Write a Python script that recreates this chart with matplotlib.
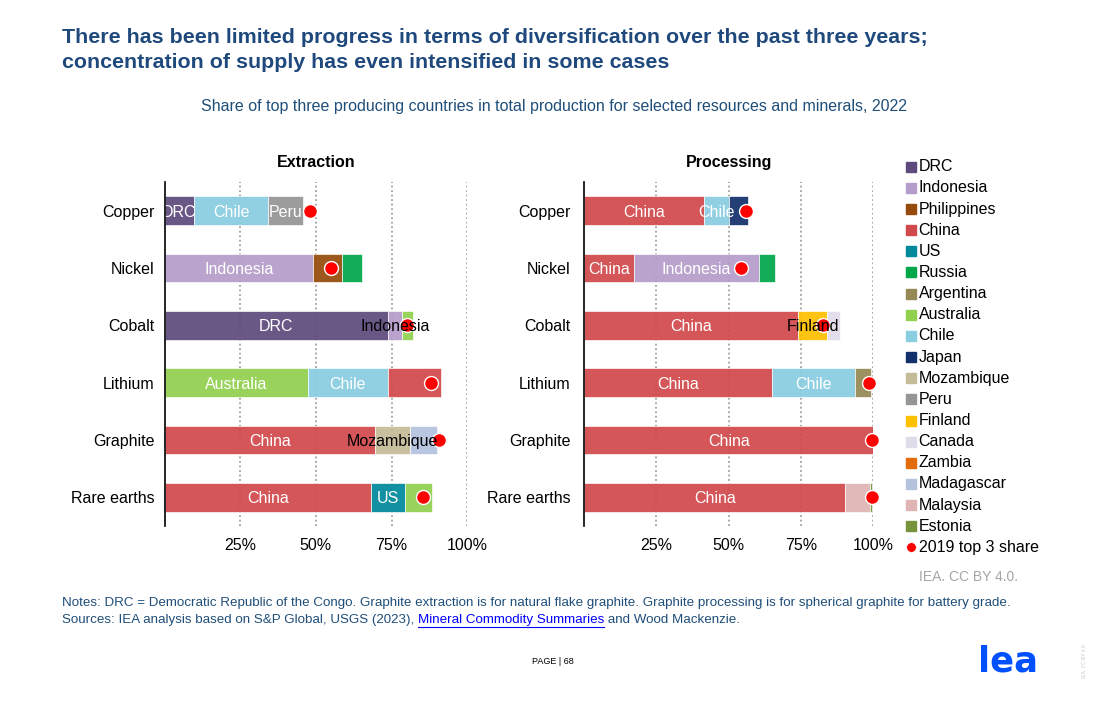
import matplotlib
matplotlib.use("Agg")
import matplotlib.pyplot as plt
from matplotlib.lines import Line2D

plt.rcParams['font.family'] = ['Liberation Sans', 'DejaVu Sans']

# ---------------- data ----------------
minerals = ["Copper", "Nickel", "Cobalt", "Lithium", "Graphite", "Rare earths"]

ext_countries = [["DRC", "Chile", "Peru"],
                 ["Indonesia", "Philippines", "Russia"],
                 ["DRC", "Indonesia", "Australia"],
                 ["Australia", "Chile", "China"],
                 ["China", "Mozambique", "Madagascar"],
                 ["China", "US", "Australia"]]
ext_shares = [[9.9, 24.3, 11.6],
              [49.1, 9.5, 6.6],
              [73.8, 4.6, 3.6],
              [47.4, 26.4, 17.5],
              [69.5, 11.6, 8.9],
              [68.2, 11.1, 8.9]]
ext_2019 = [48.0, 55.0, 80.0, 87.9, 90.8, 85.3]

proc_countries = [["China", "Chile", "Japan"],
                  ["China", "Indonesia", "Russia"],
                  ["China", "Finland", "Canada"],
                  ["China", "Chile", "Argentina"],
                  ["China"],
                  ["China", "Malaysia", "Estonia"]]
proc_shares = [[41.5, 8.5, 6.6],
               [17.2, 43.3, 5.6],
               [74.0, 10.1, 4.5],
               [65.0, 28.8, 5.5],
               [100.0],
               [90.3, 8.7, 0.7]]
proc_2019 = [55.9, 54.4, 82.8, 98.7, 99.8, 99.5]

legend_names = ["DRC", "Indonesia", "Philippines", "China", "US", "Russia",
                "Argentina", "Australia", "Chile", "Japan", "Mozambique", "Peru",
                "Finland", "Canada", "Zambia", "Madagascar", "Malaysia", "Estonia"]

country_colors = {
    "DRC": "#5E4A7C", "Indonesia": "#B59DCB", "Philippines": "#964B0C",
    "China": "#D1494B", "US": "#00899B", "Russia": "#00A84A",
    "Argentina": "#958A55", "Australia": "#92D050", "Chile": "#88CDE0",
    "Japan": "#12306A", "Mozambique": "#C4BC98", "Peru": "#959595",
    "Finland": "#FFC000", "Canada": "#E0DCEA", "Zambia": "#E36C0A",
    "Madagascar": "#B4C2DD", "Malaysia": "#E0B4B4", "Estonia": "#77933C",
}

# segments that carry a data label in the reference
ext_labelled = [["DRC", "Chile", "Peru"], ["Indonesia"], ["DRC", "Indonesia"],
                ["Australia", "Chile"], ["China", "Mozambique"], ["China", "US"]]
proc_labelled = [["China", "Chile"], ["China", "Indonesia"], ["China", "Finland"],
                 ["China", "Chile"], ["China"], ["China"]]
dark_labels = {("Extraction", "Cobalt", "Indonesia"),
               ("Extraction", "Graphite", "Mozambique"),
               ("Processing", "Cobalt", "Finland")}

# ---------------- figure ----------------
W, H = 1106, 703
fig = plt.figure(figsize=(W / 100, H / 100), dpi=100)
fig.patch.set_facecolor("white")


def fx(px):
    return px / W


def fy(py):
    return 1 - py / H


TITLE_C = "#1F497D"
TEXT_C = "#1F4E79"
FS = 11.5


def panel(name, left_px, right_px, countries, shares, marks, labelled, ypad):
    ax = fig.add_axes([fx(left_px), fy(526), (right_px - left_px) / W, (526 - 182) / H])
    for i, (cs, vs) in enumerate(zip(countries, shares)):
        left = 0.0
        for c, v in zip(cs, vs):
            ax.barh(i, v, left=left, height=0.5, color=country_colors[c],
                    edgecolor="white", linewidth=0.5, alpha=0.93, zorder=2)
            if c in labelled[i]:
                col = "black" if (name, minerals[i], c) in dark_labels else "white"
                ax.text(left + v / 2, i, c, ha="center", va="center_baseline",
                        color=col, fontsize=FS, zorder=6)
            left += v
    ax.plot(marks, range(len(minerals)), "o", color="#FF0000", mec="white",
            mew=1.0, ms=10, clip_on=False, zorder=5)
    ax.set_xlim(0, 100)
    ax.set_ylim(len(minerals) - 0.5, -0.5)
    ax.set_yticks(range(len(minerals)))
    ax.set_yticklabels(minerals, fontsize=FS)
    ax.set_xticks([25, 50, 75, 100])
    ax.set_xticklabels(["25%", "50%", "75%", "100%"], fontsize=FS)
    ax.tick_params(axis="both", length=0)
    ax.tick_params(axis="y", pad=ypad)
    ax.tick_params(axis="x", pad=9)
    ax.grid(axis="x", linestyle=(0, (1, 1.5)), color="#A0A0A0", linewidth=1.3, zorder=1)
    ax.set_axisbelow(True)
    for s in ["top", "right", "bottom"]:
        ax.spines[s].set_visible(False)
    ax.spines["left"].set_color("black")
    ax.spines["left"].set_linewidth(1.2)
    ax.spines["left"].set_zorder(7)
    ax.set_title(name, fontsize=FS, fontweight="bold", pad=10.5)
    return ax


panel("Extraction", 164.5, 467.3, ext_countries, ext_shares, ext_2019, ext_labelled, 7)
panel("Processing", 584.3, 873.0, proc_countries, proc_shares, proc_2019, proc_labelled, 10)

# ---------------- titles ----------------
fig.text(fx(62), fy(43.3), "There has been limited progress in terms of diversification over the past three years;",
         fontsize=15.4, fontweight="bold", color=TITLE_C, va="baseline", ha="left")
fig.text(fx(62), fy(68.3), "concentration of supply has even intensified in some cases",
         fontsize=15.4, fontweight="bold", color=TITLE_C, va="baseline", ha="left")
fig.text(fx(554), fy(107), "Share of top three producing countries in total production for selected resources and minerals, 2022",
         fontsize=11.55, color=TEXT_C, va="center", ha="center")

# ---------------- legend ----------------
y0, dy = 166.7, 21.15
for k, nm in enumerate(legend_names):
    y = y0 + k * dy
    fig.add_artist(Line2D([fx(910.5)], [fy(y)], marker="s", ms=6.5, linestyle="none",
                          color=country_colors[nm], transform=fig.transFigure))
    fig.text(fx(918.7), fy(y), nm, fontsize=FS, va="center", ha="left", color="black")
y = y0 + len(legend_names) * dy
fig.add_artist(Line2D([fx(910.5)], [fy(y)], marker="o", ms=7, linestyle="none",
                      color="#FF0000", mec="white", mew=0.5, transform=fig.transFigure))
fig.text(fx(918.7), fy(y), "2019 top 3 share", fontsize=FS, va="center", ha="left", color="black")

fig.text(fx(918.7), fy(577), "IEA. CC BY 4.0.", fontsize=10, color="#A6A6A6", va="center", ha="left")

# ---------------- notes ----------------
fig.text(fx(62), fy(603), "Notes: DRC = Democratic Republic of the Congo. Graphite extraction is for natural flake graphite. "
         "Graphite processing is for spherical graphite for battery grade.",
         fontsize=9.6, color=TEXT_C, va="center", ha="left")
t1 = fig.text(fx(62), fy(620), "Sources: IEA analysis based on S&P Global, USGS (2023), ",
              fontsize=9.6, color=TEXT_C, va="center", ha="left")
fig.canvas.draw()
r = fig.canvas.get_renderer()
bb = t1.get_window_extent(renderer=r)
t2 = fig.text(bb.x1 / W, fy(620), "Mineral Commodity Summaries", fontsize=9.6, color="#0000FF",
              va="center", ha="left")
bb2 = t2.get_window_extent(renderer=r)
fig.add_artist(Line2D([bb2.x0 / W, bb2.x1 / W], [fy(626.5), fy(626.5)], color="#0000FF",
                      lw=0.8, transform=fig.transFigure))
fig.text(bb2.x1 / W, fy(620), " and Wood Mackenzie.", fontsize=9.6, color=TEXT_C,
         va="center", ha="left")

fig.text(fx(553), fy(661), "PAGE | 68", fontsize=6.5, color="black", va="center", ha="center")
fig.text(fx(1008), fy(661), "lea", fontsize=25.5, fontweight="bold", color="#0050FF",
         family="DejaVu Sans", va="center", ha="center")
fig.text(fx(1084), fy(660), "IEA. CC BY 4.0.", fontsize=3.5, color="#C8C8C8", rotation=90,
         va="center", ha="center")

fig.savefig("out.png", dpi=100)
